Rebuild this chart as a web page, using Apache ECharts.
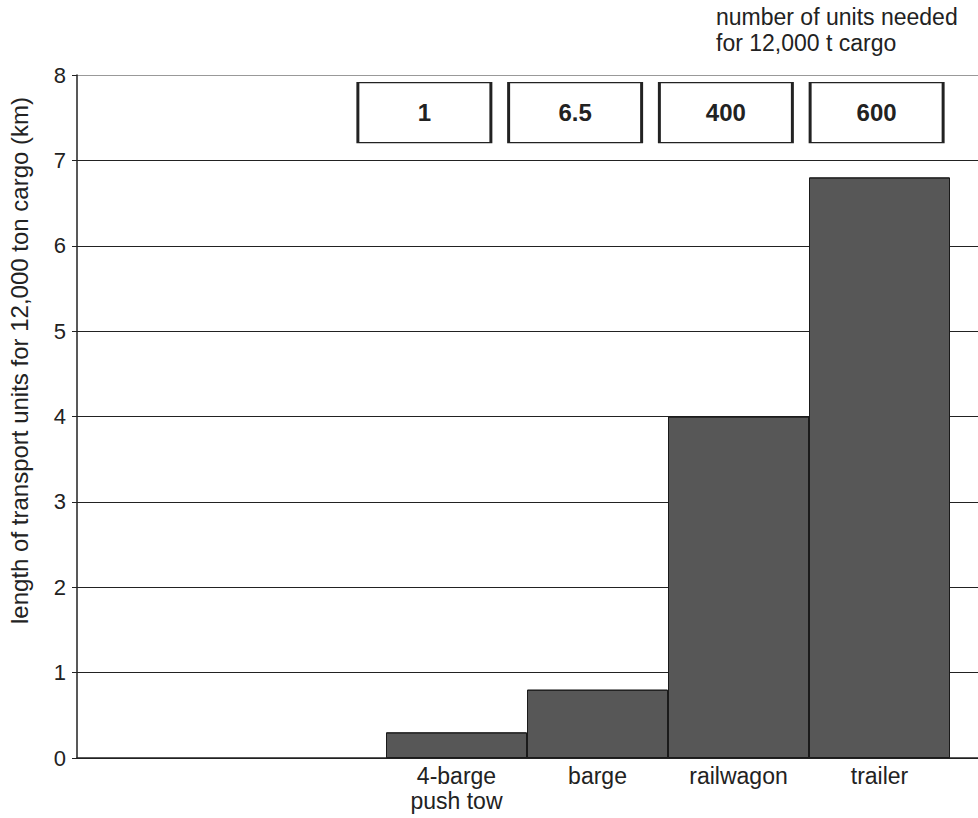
<!DOCTYPE html>
<html>
<head>
<meta charset="utf-8">
<script src="https://cdn.jsdelivr.net/npm/echarts@6/dist/echarts.min.js"></script>
<style>
  html, body { margin: 0; padding: 0; background: #fff; }
  #chart { width: 978px; height: 818px; }
</style>
</head>
<body>
<div id="chart"></div>
<script>
// data
const modes = ["4-barge\npush tow", "barge", "railwagon", "trailer"];
const length_km = [0.3, 0.8, 4.0, 6.8];
const units_needed = ["1", "6.5", "400", "600"];
const box_level = [7.56, 7.56, 7.56, 7.56];
const y_ticks = [0, 1, 2, 3, 4, 5, 6, 7, 8];

const font = "Liberation Sans, Arial, sans-serif";
const top_px = 75, bottom_px = 60;

function createEChart(element){
    const chart = echarts.init(element, null, { renderer: 'svg' });
    return chart;
}

const hiddenY = (idx) => ({
    type: 'value', gridIndex: idx, min: 0, max: 8, interval: 1, show: false
});

const gridBox = (left, right) => ({
    left, right, top: top_px, bottom: bottom_px,
    containLabel: false, outerBoundsMode: 'none'
});

const option = {
    animation: false,
    backgroundColor: '#fff',
    textStyle: { fontFamily: font },
    title: {
        text: "number of units needed\nfor 12,000 t cargo",
        left: 711, top: -1,
        textStyle: { fontSize: 23, fontWeight: 'normal', color: '#222', lineHeight: 26, fontFamily: font }
    },
    grid: [
        gridBox(77, 0),     // frame + gridlines
        gridBox(386, 28),   // bars
        gridBox(349, 26)    // boxes with unit counts
    ],
    xAxis: [
        { type: 'value', gridIndex: 0, min: 0, max: 1,
          axisLine: { show: true, lineStyle: { color: '#222', width: 1.5 } },
          axisTick: { show: false }, axisLabel: { show: false }, splitLine: { show: false } },
        { type: 'category', gridIndex: 1, data: modes, boundaryGap: true,
          axisLine: { show: false }, axisTick: { show: false },
          axisLabel: { fontSize: 23, color: '#222', margin: 5, lineHeight: 25, fontFamily: font } },
        { type: 'category', gridIndex: 2, data: units_needed, show: false }
    ],
    yAxis: [
        { type: 'value', gridIndex: 0, min: 0, max: 8, interval: 1,
          name: "length of transport units for 12,000 ton cargo (km)",
          nameLocation: 'middle', nameRotate: 90, nameGap: 46,
          nameTextStyle: { fontSize: 24, color: '#222', fontFamily: font, padding: [0, 0, 0, 112] },
          axisLine: { show: true, lineStyle: { color: '#222', width: 1.5 } },
          axisTick: { show: true, length: 5, lineStyle: { color: '#222' } },
          axisLabel: { fontSize: 22, color: '#222', margin: 11, fontFamily: font,
                       formatter: (v) => y_ticks.includes(v) ? String(v) : '' },
          splitLine: { show: true, lineStyle: {
              color: ['#222', '#222', '#222', '#222', '#222', '#222', '#222', '#222', '#999'], width: 1 } } },
        hiddenY(1),
        hiddenY(2)
    ],
    series: [
        {
            type: 'bar', xAxisIndex: 1, yAxisIndex: 1,
            data: length_km, barWidth: '100%',
            itemStyle: {
                color: '#575757', borderColor: '#1a1a1a', borderWidth: 1,
                decal: { symbol: 'none', dashArrayX: [1, 0], dashArrayY: [1, 2],
                         rotation: -Math.PI / 4, color: 'rgba(20,20,20,0.35)' }
            }
        },
        {
            type: 'scatter', xAxisIndex: 2, yAxisIndex: 2,
            data: box_level, symbol: 'rect', symbolSize: [133, 60],
            itemStyle: { color: '#fff', borderColor: '#222', borderWidth: 2, opacity: 1 },
            label: {
                show: true, position: 'inside',
                formatter: (p) => units_needed[p.dataIndex],
                fontSize: 24, fontWeight: 'bold', color: '#222', fontFamily: font
            },
            z: 5
        }
    ]
};

const chart = createEChart(document.getElementById('chart'));
chart.setOption(option);
</script>
</body>
</html>
